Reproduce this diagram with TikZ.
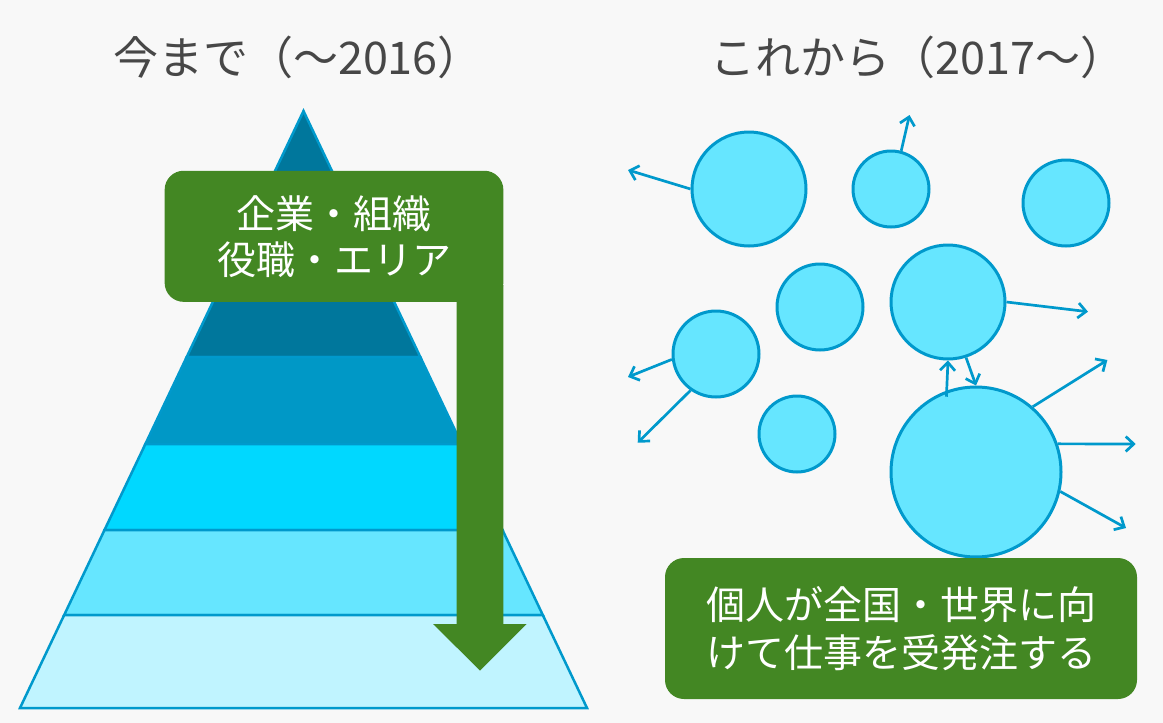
\documentclass[tikz,border=0pt]{standalone}
\usepackage{fontspec}
\setmainfont{Noto Sans CJK JP}
\usetikzlibrary{arrows.meta}
\definecolor{bgc}{HTML}{F8F8F8}
\definecolor{leaf}{HTML}{438723}
\definecolor{tier1}{HTML}{00779C}
\definecolor{tier2}{HTML}{0098C6}
\definecolor{tier3}{HTML}{00D8FF}
\definecolor{tier4}{HTML}{66E6FF}
\definecolor{tier5}{HTML}{C0F4FF}
\definecolor{edge}{HTML}{0099CC}
\definecolor{headgray}{HTML}{474747}

\begin{document}
\begin{tikzpicture}[x=1pt,y=-1pt,
  tier/.style={fill=#1,draw=edge,line width=2.5pt,line join=miter},
  label box/.style={fill=leaf,rounded corners=19pt,text=white,align=center,inner sep=0pt,font=\fontsize{39}{46}\selectfont},
  bubble/.style={circle,fill=tier4,draw=edge,line width=3pt,inner sep=0pt,minimum size=#1},
  push/.style={draw=edge,line width=2.7pt,-{Straight Barb[length=8pt,width=15pt]}},
  heading/.style={text=headgray,font=\fontsize{45}{54}\selectfont}]
\fill[bgc] (0,0) rectangle (1163,723);
\useasboundingbox (0,0) rectangle (1163,723);
\node[heading] (past) at (298,57) {今まで（〜2016）};
\node[heading] (future) at (918,57) {これから（2017〜）};
\path[tier=tier1] (303.5,111) -- (420.3,357) -- (186.7,357) -- cycle;
\path[tier=tier2] (186.7,357) -- (420.3,357) -- (461.6,444) -- (145.4,444) -- cycle;
\path[tier=tier3] (145.4,444) -- (461.6,444) -- (502.5,530) -- (104.5,530) -- cycle;
\path[tier=tier4] (104.5,530) -- (502.5,530) -- (542.8,615) -- (64.2,615) -- cycle;
\path[tier=tier5] (64.2,615) -- (542.8,615) -- (587,708) -- (20,708) -- cycle;
\node[label box,minimum width=338.7pt,minimum height=131.1pt] (legacy) at (334,236.3) {企業・組織\\役職・エリア};
\fill[leaf] (456.7,285) -- (503.3,285) -- (503.3,624) -- (526.7,624) -- (480,670.5) -- (433,624) -- (456.7,624) -- cycle;
\node[bubble=114pt] (b1) at (749,189) {};
\node[bubble=76pt] (b2) at (891,189) {};
\node[bubble=86pt] (b3) at (1066,203) {};
\node[bubble=86pt] (b4) at (820,307) {};
\node[bubble=114pt] (b5) at (948,302) {};
\node[bubble=86pt] (b6) at (716,354) {};
\node[bubble=76pt] (b7) at (797,434) {};
\node[bubble=170pt] (b8) at (976,472) {};
\coordinate (o1) at (628,170);
\coordinate (o2) at (909.5,115);
\coordinate (o3) at (1088,311.7);
\coordinate (o4) at (628,377);
\coordinate (o5) at (637.7,442.7);
\coordinate (o6) at (1107.4,360);
\coordinate (o7) at (1135.7,444);
\coordinate (o8) at (1126,528);
\draw[push] (b1.180) -- (o1);
\draw[push] (b2.75) -- (o2);
\draw[push] (b5.0) -- (o3);
\draw[push] (b6.187) -- (o4);
\draw[push] (b6.235) -- (o5);
\draw[push] ([yshift=-6pt]b8.110) -- (b5.south);
\draw[push] (b5.-72) -- (b8.north);
\draw[push] (b8.49) -- (o6);
\draw[push] (b8.19) -- (o7);
\draw[push] (b8.-13) -- (o8);
\node[label box,minimum width=472pt,minimum height=141pt,font=\fontsize{39}{48}\selectfont] (freelance) at (901,628.5) {個人が全国・世界に向\\けて仕事を受発注する};
\end{tikzpicture}
\end{document}
